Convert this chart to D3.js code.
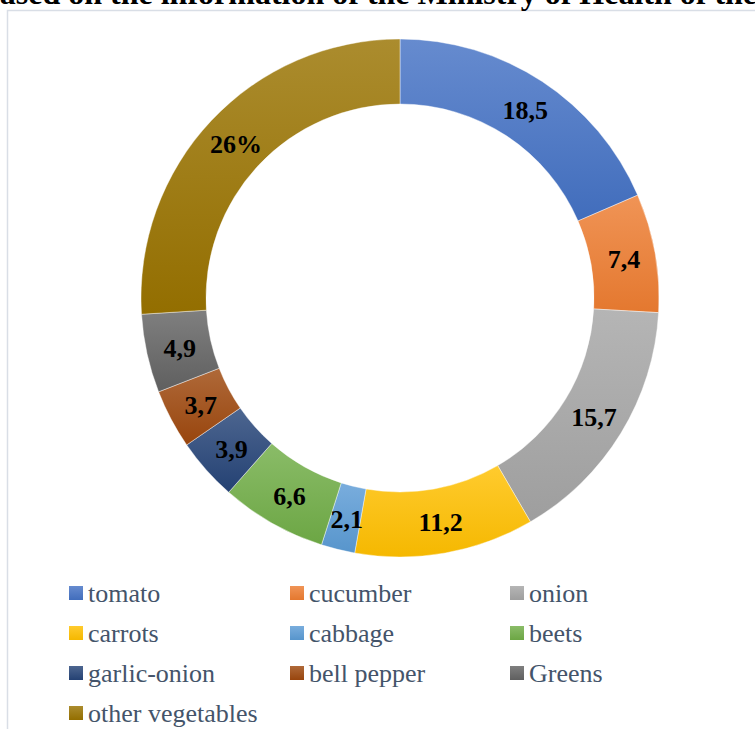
<!DOCTYPE html>
<html><head><meta charset="utf-8">
<script src="https://cdn.jsdelivr.net/npm/d3@7"></script>
<style>html,body{margin:0;padding:0;background:#fff;overflow:hidden}</style>
</head><body>
<svg id="chart" width="755" height="729"></svg>
<script>
const titleText = "based on the information of the Ministry of Health of the";
const categories = ["tomato","cucumber","onion","carrots","cabbage","beets","garlic-onion","bell pepper","Greens","other vegetables"];
const values = [18.5, 7.4, 15.7, 11.2, 2.1, 6.6, 3.9, 3.7, 4.9, 26];
const valueLabels = ["18,5","7,4","15,7","11,2","2,1","6,6","3,9","3,7","4,9","26%"];
const colors = ["#4472C4","#ED7D31","#A5A5A5","#FFC000","#5B9BD5","#70AD47","#264478","#9E480E","#636363","#997300"];

const svg = d3.select("#chart");
const defs = svg.append("defs");
colors.forEach((c,i)=>{
  const g = defs.append("linearGradient").attr("id","g"+i).attr("x1",0).attr("y1",0).attr("x2",0).attr("y2",1);
  g.append("stop").attr("offset","0%").attr("stop-color", d3.interpolateRgb(c,"#ffffff")(0.18));
  g.append("stop").attr("offset","100%").attr("stop-color", d3.interpolateRgb(c,"#000000")(0.04));
});

// chart border
svg.append("path").attr("d","M7.5,729 L7.5,10.5 L755,10.5").attr("fill","none").attr("stroke","#D9DEE6").attr("stroke-width",1.5);

// title (clipped at top, as in the reference)
svg.append("text").attr("x",-18).attr("y",4).attr("font-family","'Liberation Serif','Times New Roman',serif")
  .attr("font-weight","bold").attr("font-size",32).attr("fill","#000").text(titleText);

const cx = 400, cy = 298, rOuter = 259, rInner = 194;
const pie = d3.pie().sort(null).value(d=>d.v);
const arcs = pie(categories.map((c,i)=>({c, v: values[i], i})));
const arc = d3.arc().innerRadius(rInner).outerRadius(rOuter);
const g = svg.append("g").attr("transform",`translate(${cx},${cy})`);
g.selectAll("path.slice").data(arcs).join("path").attr("class","slice")
  .attr("d",arc).attr("fill",d=>`url(#g${d.data.i})`).attr("stroke","#ffffff").attr("stroke-width",0.6).attr("stroke-opacity",0.7);
g.selectAll("text.lbl").data(arcs).join("text").attr("class","lbl")
  .attr("transform",d=>{const p=arc.centroid(d); return `translate(${p[0]+1},${p[1]+1})`;})
  .attr("text-anchor","middle").attr("dy","0.35em")
  .attr("font-family","'Liberation Serif','Times New Roman',serif").attr("font-weight","bold").attr("font-size",26)
  .attr("fill","#000").text(d=>valueLabels[d.data.i]);

// legend
const colX = [69, 290, 510], rowY = [593, 633, 673, 713];
const lg = svg.append("g");
categories.forEach((c,i)=>{
  const x = colX[i%3], y = rowY[Math.floor(i/3)];
  lg.append("rect").attr("x",x).attr("y",y-7).attr("width",14).attr("height",14).attr("fill",`url(#g${i})`);
  lg.append("text").attr("x",x+19).attr("y",y).attr("dy","0.35em")
    .attr("font-family","'Liberation Serif','Times New Roman',serif").attr("font-size",26)
    .attr("fill","#44546A").text(c);
});
</script>
</body></html>
